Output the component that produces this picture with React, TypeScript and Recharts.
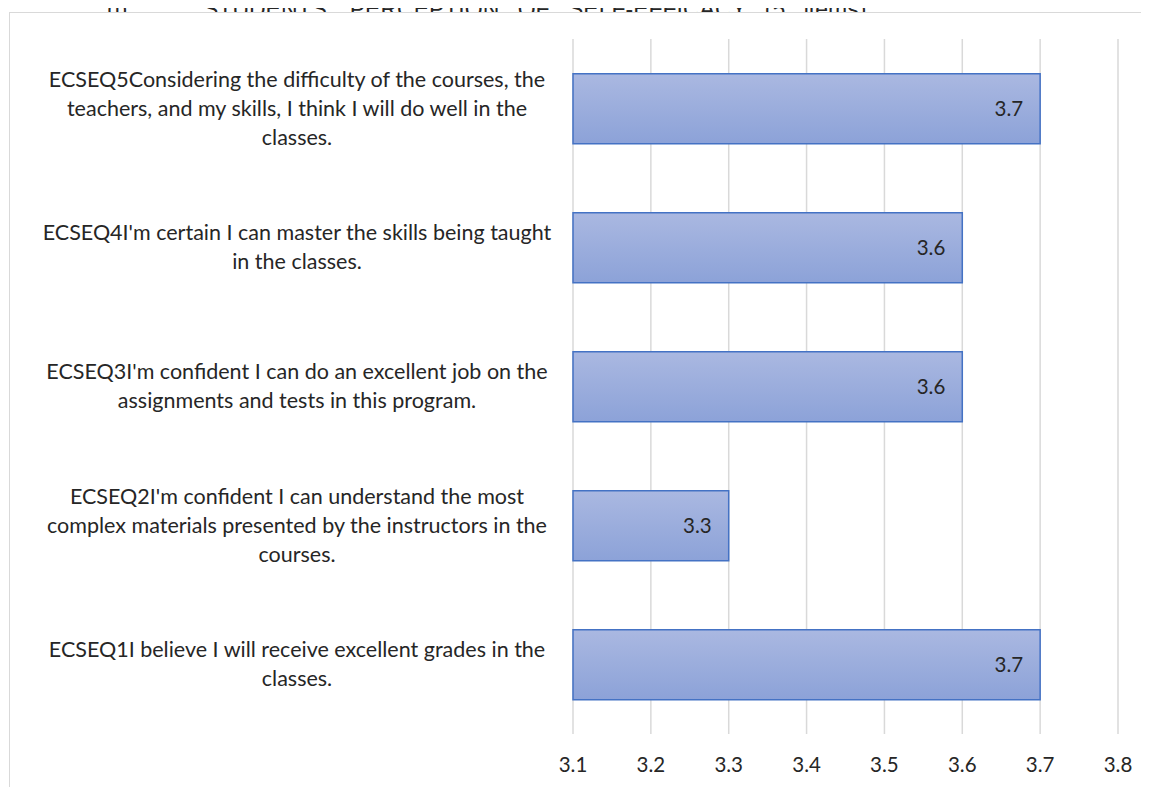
import React from 'react';
import { BarChart, Bar, XAxis, YAxis, CartesianGrid, LabelList } from 'recharts';

// category labels, top to bottom, already broken into lines as in the source
const categoryLines: string[][] = [
  ['ECSEQ5Considering the difficulty of the courses, the', 'teachers, and my skills, I think I will do well in the', 'classes.'],
  ["ECSEQ4I'm certain I can master the skills being taught", 'in the classes.'],
  ["ECSEQ3I'm confident I can do an excellent job on the", 'assignments and tests in this program.'],
  ["ECSEQ2I'm confident I can understand the most", 'complex materials presented by the instructors in the', 'courses.'],
  ['ECSEQ1I believe I will receive excellent grades in the', 'classes.'],
];
const meanScores = [3.7, 3.6, 3.6, 3.3, 3.7];
const xTicks = [3.1, 3.2, 3.3, 3.4, 3.5, 3.6, 3.7, 3.8];
const titleNumber = '(i)';
const titleText = "STUDENTS' PERCEPTION OF SELF-EFFICACY (5 items)";

const data = categoryLines.map((lines, i) => ({
  name: lines.join(' '),
  value: meanScores[i],
}));

const FONT = 'Lato, "Open Sans", sans-serif';
const TEXT = '#262626';

const CategoryTick = (props: any) => {
  const { x, y, payload } = props;
  const lines = categoryLines[payload.index] || [payload.value];
  const n = lines.length;
  return (
    <g>
      {lines.map((line, i) => (
        <text
          key={i}
          x={x - 268}
          y={y + (i - (n - 1) / 2) * 29 + 7}
          textAnchor="middle"
          fill={TEXT}
          fontSize={21.5}
          fontFamily={FONT}
        >
          {line}
        </text>
      ))}
    </g>
  );
};

const titleStyle: React.CSSProperties = {
  position: 'absolute',
  top: -14,
  fontSize: 23,
  lineHeight: '30px',
  color: TEXT,
  whiteSpace: 'nowrap',
  wordSpacing: 12,
  fontFamily: 'Arial, "Liberation Sans", sans-serif',
};

export default function App() {
  return (
    <div style={{ position: 'relative', width: 1141, height: 779, fontFamily: FONT }}>
      <div style={{ ...titleStyle, left: 99 }}>{titleNumber}</div>
      <div style={{ ...titleStyle, left: 195 }}>{titleText}</div>
      <div
        style={{
          position: 'absolute',
          left: 1,
          top: 4,
          width: 1160,
          height: 800,
          border: '1px solid #d9d9d9',
          background: '#fff',
        }}
      />
      <div style={{ position: 'absolute', left: 0, top: 0 }}>
        <BarChart
          width={1141}
          height={779}
          data={data}
          layout="vertical"
          margin={{ top: 31, right: 31, left: 20, bottom: 23 }}
          barCategoryGap="25%"
        >
          <defs>
            <linearGradient id="barFill" x1="0" y1="0" x2="0" y2="1">
              <stop offset="0%" stopColor="#aab8e1" />
              <stop offset="100%" stopColor="#8ca2d8" />
            </linearGradient>
          </defs>
          <CartesianGrid horizontal={false} stroke="#d9d9d9" strokeWidth={1.5} />
          <XAxis
            type="number"
            domain={[3.1, 3.8]}
            ticks={xTicks}
            tickFormatter={(v: number) => v.toFixed(1)}
            axisLine={false}
            tickLine={false}
            tickMargin={17}
            height={30}
            tick={{ fill: TEXT, fontSize: 20.5, fontFamily: FONT }}
          />
          <YAxis
            type="category"
            dataKey="name"
            width={545}
            axisLine={false}
            tickLine={false}
            interval={0}
            tick={<CategoryTick />}
          />
          <Bar
            dataKey="value"
            fill="url(#barFill)"
            stroke="#4472c4"
            strokeWidth={1.5}
            isAnimationActive={false}
          >
            <LabelList
              dataKey="value"
              position="insideRight"
              offset={17}
              fill={TEXT}
              fontSize={20.5}
              fontFamily={FONT}
              formatter={(v: any) => Number(v).toFixed(1)}
            />
          </Bar>
        </BarChart>
      </div>
    </div>
  );
}
